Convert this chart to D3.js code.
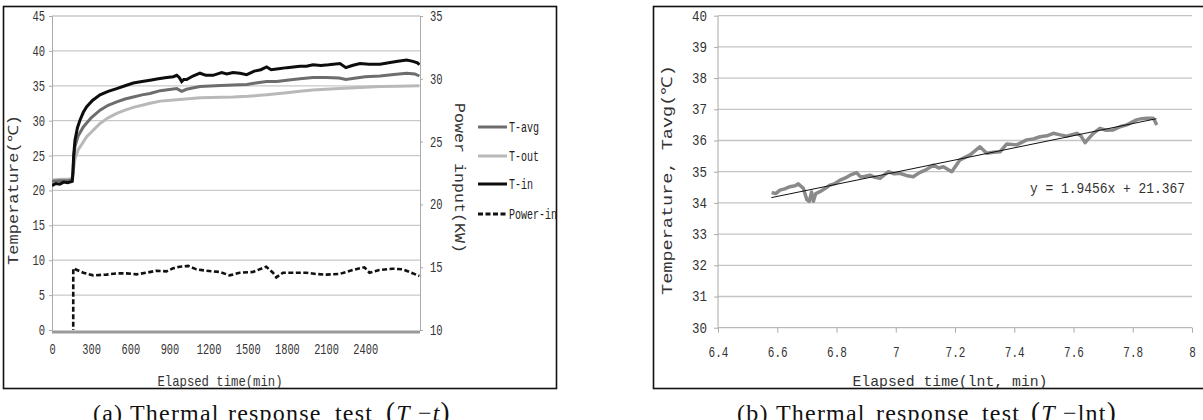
<!DOCTYPE html>
<html><head><meta charset="utf-8">
<script src="https://cdn.jsdelivr.net/npm/d3@7/dist/d3.min.js"></script>
<style>
html,body{margin:0;padding:0;background:#fff;}
svg{display:block;}
text{font-family:"Liberation Mono","DejaVu Sans Mono",monospace;fill:#222;}
.cap{font-family:"Liberation Serif","DejaVu Serif",serif;fill:#111;}
</style></head>
<body>
<svg id="c" width="1203" height="420"></svg>
<script>
// ---------- DATA (panel a) ----------
const tempTicksA = [0,5,10,15,20,25,30,35,40,45];
const powerTicksA = [10,15,20,25,30,35];
const timeTicksA = [0,300,600,900,1200,1500,1800,2100,2400];
const seriesNamesA = ["T-avg","T-out","T-in","Power-in"];
// [elapsed min, temperature °C]
const tIn = [[0,20.7],[30,21.0],[60,20.9],[90,21.2],[120,21.1],[155,21.3],[160,22.5],[166,25.0],[176,27.2],[195,29.0],[215,30.1],[240,31.2],[266,32.0],[310,32.9],[368,33.7],[430,34.2],[496,34.6],[560,35.0],[623,35.4],[690,35.6],[751,35.8],[815,36.0],[879,36.2],[930,36.3],[956,36.5],[975,36.2],[994,35.6],[1010,35.9],[1032,35.9],[1080,36.4],[1134,36.8],[1180,36.5],[1234,36.5],[1300,36.9],[1340,36.7],[1387,36.9],[1440,36.8],[1492,36.6],[1550,37.1],[1600,37.3],[1645,37.7],[1680,37.3],[1722,37.4],[1800,37.6],[1850,37.7],[1900,37.8],[1950,37.8],[2000,38.0],[2060,37.9],[2120,38.0],[2207,38.2],[2252,37.6],[2300,37.9],[2360,38.2],[2430,38.1],[2514,38.1],[2580,38.3],[2650,38.5],[2718,38.7],[2766,38.5],[2800,38.3],[2815,38.0]];
const tAvg = [[0,21.3],[60,21.4],[120,21.4],[155,21.5],[162,23.0],[168,25.0],[176,26.3],[200,27.8],[240,29.1],[300,30.4],[368,31.5],[430,32.2],[496,32.7],[560,33.1],[623,33.4],[690,33.7],[751,33.9],[830,34.3],[956,34.6],[994,34.2],[1030,34.5],[1134,34.9],[1250,35.0],[1387,35.1],[1492,35.2],[1560,35.4],[1645,35.6],[1722,35.6],[1800,35.8],[1900,36.0],[2000,36.2],[2100,36.2],[2200,36.1],[2252,35.9],[2330,36.1],[2400,36.3],[2514,36.4],[2620,36.6],[2718,36.8],[2780,36.7],[2815,36.4]];
const tOut = [[0,21.5],[60,21.6],[120,21.6],[158,21.7],[165,23.0],[176,24.5],[200,25.8],[266,27.7],[368,29.6],[430,30.4],[496,31.05],[560,31.5],[623,31.9],[690,32.2],[751,32.5],[830,32.8],[956,33.0],[1134,33.3],[1387,33.4],[1500,33.5],[1645,33.7],[1800,34.0],[1900,34.2],[2000,34.4],[2200,34.6],[2400,34.8],[2514,34.9],[2650,34.95],[2815,35.0]];
// [elapsed min, power kW]
const powerIn = [[0,0],[162,0],[163,14.91],[240,14.56],[316,14.35],[418,14.41],[495,14.51],[571,14.51],[648,14.43],[724,14.56],[801,14.72],[877,14.67],[928,14.91],[979,15.04],[1043,15.10],[1107,14.83],[1183,14.72],[1285,14.62],[1362,14.35],[1438,14.56],[1540,14.62],[1642,15.04],[1693,14.56],[1719,14.19],[1770,14.56],[1846,14.56],[1948,14.56],[2025,14.46],[2101,14.41],[2203,14.46],[2305,14.78],[2394,14.99],[2433,14.56],[2509,14.78],[2611,14.88],[2688,14.83],[2739,14.62],[2815,14.30]];

// ---------- DATA (panel b) ----------
const tempTicksB = [30,31,32,33,34,35,36,37,38,39,40];
const lnTicksB = [6.4,6.6,6.8,7,7.2,7.4,7.6,7.8,8];
// [ln t, Tavg]
const tavgLn = [[6.581,34.33],[6.595,34.30],[6.609,34.41],[6.625,34.45],[6.643,34.52],[6.660,34.55],[6.671,34.61],[6.688,34.47],[6.700,34.10],[6.708,34.05],[6.716,34.35],[6.722,34.05],[6.730,34.30],[6.744,34.36],[6.760,34.45],[6.778,34.57],[6.795,34.62],[6.812,34.73],[6.830,34.80],[6.846,34.89],[6.868,34.97],[6.880,34.84],[6.891,34.84],[6.913,34.89],[6.930,34.82],[6.947,34.79],[6.975,35.0],[6.995,34.93],[7.014,34.95],[7.035,34.88],[7.059,34.84],[7.080,34.97],[7.100,35.05],[7.127,35.21],[7.145,35.12],[7.161,35.16],[7.189,35.0],[7.217,35.38],[7.251,35.54],[7.284,35.80],[7.307,35.59],[7.330,35.62],[7.352,35.64],[7.375,35.89],[7.408,35.86],[7.442,36.02],[7.465,36.05],[7.487,36.12],[7.510,36.15],[7.532,36.23],[7.555,36.18],[7.577,36.14],[7.611,36.23],[7.625,36.15],[7.639,35.93],[7.650,36.05],[7.667,36.23],[7.689,36.39],[7.710,36.33],[7.734,36.34],[7.760,36.45],[7.780,36.50],[7.813,36.66],[7.830,36.70],[7.847,36.71],[7.869,36.71],[7.875,36.62],[7.881,36.50]];
const fitSlope = 1.9456, fitIntercept = 21.367;
const fitRange = [6.58, 7.88];

// ---------- DRAW ----------
const svg = d3.select("#c");
const FONT = '"Liberation Mono","DejaVu Sans Mono",monospace';

function txt(g, s, x, y, opt) {
  opt = opt || {};
  const t = g.append("text").attr("x", x).attr("y", y).text(s)
    .attr("font-size", opt.size || 12)
    .attr("text-anchor", opt.anchor || "start");
  if (opt.len) t.attr("textLength", opt.len).attr("lengthAdjust", opt.adj || "spacingAndGlyphs");
  if (opt.rot !== undefined) t.attr("transform", `rotate(${opt.rot},${x},${y})`);
  if (opt.fill) t.style("fill", opt.fill);
  return t;
}

function caption(words, y) {
  const t = svg.append("text").attr("class","cap").attr("y",y).attr("font-size",24)
    .attr("letter-spacing",1.2);
  words.forEach(w => {
    w.parts.forEach((p,i) => {
      const ts = t.append("tspan").text(p.s);
      if (i === 0) ts.attr("x", w.x);
      if (p.it) ts.attr("font-style","italic");
      if (p.big) ts.attr("font-size",27);
    });
  });
}

// ===== Panel (a) =====
svg.append("rect").attr("x",3.5).attr("y",6.5).attr("width",553).attr("height",382)
  .attr("fill","none").attr("stroke","#111").attr("stroke-width",1.6);

const xA = d3.scaleLinear().domain([0,2820]).range([52,420]);
const yA = d3.scaleLinear().domain([0,45]).range([330,16]);
const yP = d3.scaleLinear().domain([10,35]).range([330,16]);

const gA = svg.append("g");
gA.append("g").selectAll("line").data(tempTicksA.filter(d=>d>0)).join("line")
  .attr("x1",52).attr("x2",420).attr("y1",d=>yA(d)).attr("y2",d=>yA(d))
  .attr("stroke","#c9c9c9").attr("stroke-width",1.3);
const axL = gA.append("g").attr("transform","translate(52,0)")
  .call(d3.axisLeft(yA).tickValues(tempTicksA).tickSize(3).tickPadding(4).tickFormat(d3.format("d")));
axL.select(".domain").attr("stroke","#aaa");
axL.selectAll(".tick line").attr("stroke","#aaa");
axL.selectAll("text").attr("font-family",FONT).attr("font-size",14).style("fill","#333")
  .attr("textLength",d=>String(d).length*6.3).attr("lengthAdjust","spacingAndGlyphs");
const axR = gA.append("g").attr("transform","translate(420,0)")
  .call(d3.axisRight(yP).tickValues(powerTicksA).tickSize(3).tickPadding(7).tickFormat(d3.format("d")));
axR.select(".domain").attr("stroke","#aaa");
axR.selectAll(".tick line").attr("stroke","#aaa");
axR.selectAll("text").attr("font-family",FONT).attr("font-size",14).style("fill","#333")
  .attr("textLength",d=>String(d).length*6.3).attr("lengthAdjust","spacingAndGlyphs");
const axB = gA.append("g").attr("transform","translate(0,332)")
  .call(d3.axisBottom(xA).tickValues(timeTicksA).tickSize(0).tickPadding(12).tickFormat(d3.format("d")));
axB.select(".domain").attr("stroke","#9a9a9a").attr("stroke-width",3)
  .attr("d",`M${xA(0)},0H${xA(2820)}`);
axB.selectAll("text").attr("font-family",FONT).attr("font-size",14).style("fill","#333")
  .attr("textLength",d=>String(d).length*6.2).attr("lengthAdjust","spacingAndGlyphs");

svg.append("clipPath").attr("id","clipA").append("rect").attr("x",52).attr("y",10).attr("width",368).attr("height",320);

const lineA = d3.line().x(d=>xA(d[0])).y(d=>yA(d[1]));
const lineP = d3.line().x(d=>xA(d[0])).y(d=>yP(d[1]));
const plotA = gA.append("g").attr("clip-path","url(#clipA)");
plotA.append("path").datum(powerIn).attr("d",lineP).attr("fill","none")
  .attr("stroke","#111").attr("stroke-width",2.6).attr("stroke-dasharray","5,2.5");
plotA.append("path").datum(tOut).attr("d",lineA).attr("fill","none").attr("stroke","#b9b9b9").attr("stroke-width",3);
plotA.append("path").datum(tAvg).attr("d",lineA).attr("fill","none").attr("stroke","#6d6d6d").attr("stroke-width",3);
plotA.append("path").datum(tIn).attr("d",lineA).attr("fill","none").attr("stroke","#0d0d0d").attr("stroke-width",3);

const legStyle = [
  {c:"#6d6d6d",dash:null},{c:"#b9b9b9",dash:null},{c:"#0d0d0d",dash:null},{c:"#111",dash:"5,2.5"}];
const legY = [127,156,184,214];
seriesNamesA.forEach((n,i)=>{
  gA.append("line").attr("x1",478).attr("x2",507).attr("y1",legY[i]).attr("y2",legY[i])
    .attr("stroke",legStyle[i].c).attr("stroke-width",3).attr("stroke-dasharray",legStyle[i].dash);
  txt(gA,n,509,legY[i]+5,{size:14,len:n.length*6.0});
});

txt(gA,"Elapsed time(min)",220,386,{size:15,anchor:"middle",len:125,fill:"#333"});
txt(gA,"Temperature(℃)",18,190,{size:14,anchor:"middle",len:150,rot:-90,fill:"#333"});
txt(gA,"Power input(KW)",455,178,{size:14,anchor:"middle",len:150,rot:90,fill:"#333"});

caption([
  {x:93, parts:[{s:"(a)"}]},
  {x:130, parts:[{s:"Thermal"}]},
  {x:228, parts:[{s:"response"}]},
  {x:335, parts:[{s:"test"}]},
  {x:386, parts:[{s:"(",big:1},{s:"T",it:1},{s:" −"},{s:"t",it:1},{s:")",big:1}]}
], 421);

// ===== Panel (b) =====
svg.append("rect").attr("x",653.5).attr("y",6.5).attr("width",560).attr("height",382)
  .attr("fill","none").attr("stroke","#111").attr("stroke-width",1.6);

const xB = d3.scaleLinear().domain([6.4,8]).range([718,1192]);
const yB = d3.scaleLinear().domain([30,40]).range([327.7,15.7]);
const gB = svg.append("g");
gB.append("g").selectAll("line").data(tempTicksB.filter(d=>d>30)).join("line")
  .attr("x1",718).attr("x2",1192).attr("y1",d=>yB(d)).attr("y2",d=>yB(d))
  .attr("stroke","#c4c4c4").attr("stroke-width",1.3);
const axBL = gB.append("g").attr("transform","translate(718,0)")
  .call(d3.axisLeft(yB).tickValues(tempTicksB).tickSize(4).tickPadding(7).tickFormat(d3.format("d")));
axBL.select(".domain").attr("stroke","#aaa").attr("d","M0,15.7V327.7");
axBL.selectAll(".tick line").attr("stroke","#aaa");
axBL.selectAll("text").attr("font-family",FONT).attr("font-size",14).style("fill","#333")
  .attr("textLength",15).attr("lengthAdjust","spacingAndGlyphs");
const axBB = gB.append("g").attr("transform","translate(0,327.7)")
  .call(d3.axisBottom(xB).tickValues(lnTicksB).tickSize(5).tickPadding(14).tickFormat(d=>String(d)));
axBB.select(".domain").attr("stroke","#aaa").attr("d","M718,0H1192");
axBB.selectAll(".tick line").attr("stroke","#aaa");
axBB.selectAll("text").attr("font-family",FONT).attr("font-size",14).style("fill","#333")
  .attr("textLength",d=>String(d).length*6.6).attr("lengthAdjust","spacingAndGlyphs");

const lineB = d3.line().x(d=>xB(d[0])).y(d=>yB(d[1]));
gB.append("path").datum(tavgLn).attr("d",lineB).attr("fill","none")
  .attr("stroke","#8a8a8a").attr("stroke-width",3.5).attr("stroke-linejoin","round");
const fitPts = fitRange.map(x=>[x, fitSlope*x+fitIntercept]);
gB.append("path").datum(fitPts).attr("d",lineB).attr("fill","none").attr("stroke","#111").attr("stroke-width",1);

txt(gB,"y = 1.9456x + 21.367",1030,193,{size:14,len:155,fill:"#333"});
txt(gB,"Elapsed time(lnt, min)",950,386,{size:15,anchor:"middle",len:195,fill:"#333"});
txt(gB,"Temperature, Tavg(℃)",672,180,{size:15,anchor:"middle",len:230,rot:-90,fill:"#333"});

caption([
  {x:737, parts:[{s:"(b)"}]},
  {x:776, parts:[{s:"Thermal"}]},
  {x:876, parts:[{s:"response"}]},
  {x:982, parts:[{s:"test"}]},
  {x:1031, parts:[{s:"(",big:1},{s:"T",it:1},{s:" −lnt"},{s:")",big:1}]}
], 421);
</script>
</body></html>
